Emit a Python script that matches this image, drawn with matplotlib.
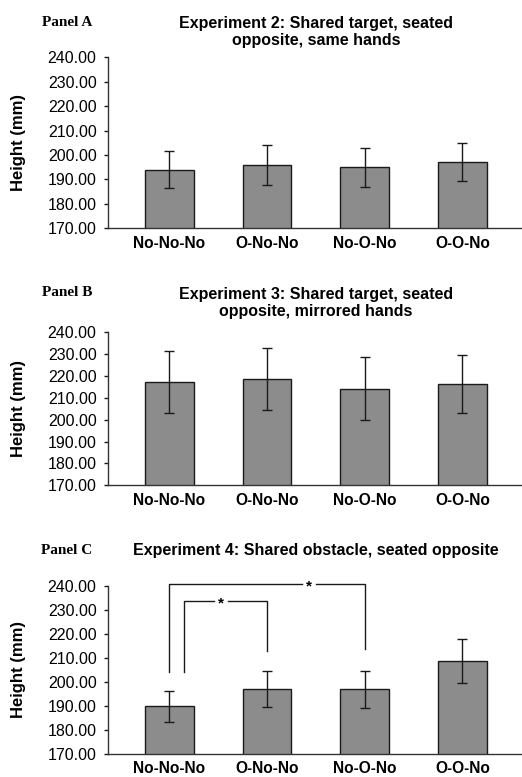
import matplotlib.pyplot as plt

conditions = ["No-No-No", "O-No-No", "No-O-No", "O-O-No"]
panel_labels = ["Panel A", "Panel B", "Panel C"]
titles = ["Experiment 2: Shared target, seated\nopposite, same hands",
          "Experiment 3: Shared target, seated\nopposite, mirrored hands",
          "Experiment 4: Shared obstacle, seated opposite"]

exp2_mean = [194.0, 195.9, 194.9, 197.1]
exp2_err = [7.5, 8.2, 7.8, 7.7]
exp3_mean = [217.3, 218.6, 214.2, 216.5]
exp3_err = [14.2, 14.2, 14.3, 13.3]
exp4_mean = [189.9, 197.1, 196.9, 208.7]
exp4_err = [6.5, 7.4, 7.7, 9.1]

yticks = [170, 180, 190, 200, 210, 220, 230, 240]

# significance brackets in panel C: left x, right x, top y, left foot, right foot, star x
brackets = [(0.0, 2.0, 240.5, 204.0, 213.8, 1.43),
            (0.15, 1.0, 233.6, 204.0, 212.7, 0.53)]

plt.rcParams['font.family'] = ['Liberation Sans', 'DejaVu Sans']

W, H = 522, 777
fig = plt.figure(figsize=(W / 100, H / 100), dpi=100)

# axes boxes in pixels: top, bottom
boxes = [(57.3, 228.3), (332.3, 485.3), (585.7, 754.0)]
left_px, right_px = 107.7, 521.0
title_y = [(32.2, 22.7), (302.8, 292.3), (551.0, 551.0)]
xpad = [5.5, 5.5, 5.0]

means = [exp2_mean, exp3_mean, exp4_mean]
errs = [exp2_err, exp3_err, exp4_err]

for i in range(3):
    top, bot = boxes[i]
    ax = fig.add_axes([left_px / W, 1 - bot / H, (right_px - left_px) / W, (bot - top) / H])
    x = range(len(conditions))
    ax.bar(x, means[i], width=0.5, bottom=0, color="#8c8c8c", edgecolor="#1a1a1a", linewidth=1.0,
           yerr=errs[i], capsize=3.5, error_kw=dict(ecolor="#1a1a1a", elinewidth=1.0, capthick=1.0), zorder=2)
    ax.set_ylim(170, 240)
    ax.set_xlim(-0.631, 3.60)
    ax.set_yticks(yticks)
    ax.set_yticklabels(["{:.2f}".format(v) for v in yticks], fontsize=11.5)
    ax.set_xticks(list(x))
    ax.set_xticklabels(conditions, fontsize=11.2, fontweight="bold")
    ax.tick_params(axis="x", length=0, pad=xpad[i])
    ax.tick_params(axis="y", length=3, direction="out", pad=5, width=1.0, colors="#1a1a1a", labelcolor="black")
    for s in ["top", "right"]:
        ax.spines[s].set_visible(False)
    for s in ["left", "bottom"]:
        ax.spines[s].set_color("#333333")
        ax.spines[s].set_linewidth(1.0)
    ax.set_ylabel("Height (mm)", fontsize=12, fontweight="bold")
    ax.yaxis.set_label_coords(-0.197, 0.5)

    fig.text(316 / W, 1 - title_y[i][0] / H, titles[i], ha="center", va="center",
             fontsize=11.5, fontweight="bold", linespacing=1.2)
    fig.text(67 / W, 1 - title_y[i][1] / H, panel_labels[i], ha="center", va="center",
             fontsize=11, fontweight="bold", family="Liberation Serif")

    if i == 2:
        for xl, xr, yt, yl, yr, xs in brackets:
            gap = 0.075
            ax.plot([xl, xl, xs - gap], [yl, yt, yt], color="#1a1a1a", lw=1.0, clip_on=False, zorder=3)
            ax.plot([xs + gap, xr, xr], [yt, yt, yr], color="#1a1a1a", lw=1.0, clip_on=False, zorder=3)
            ax.text(xs, yt - 0.8, "*", ha="center", va="center", fontsize=11, fontweight="bold")

fig.savefig("out.png", dpi=100)
